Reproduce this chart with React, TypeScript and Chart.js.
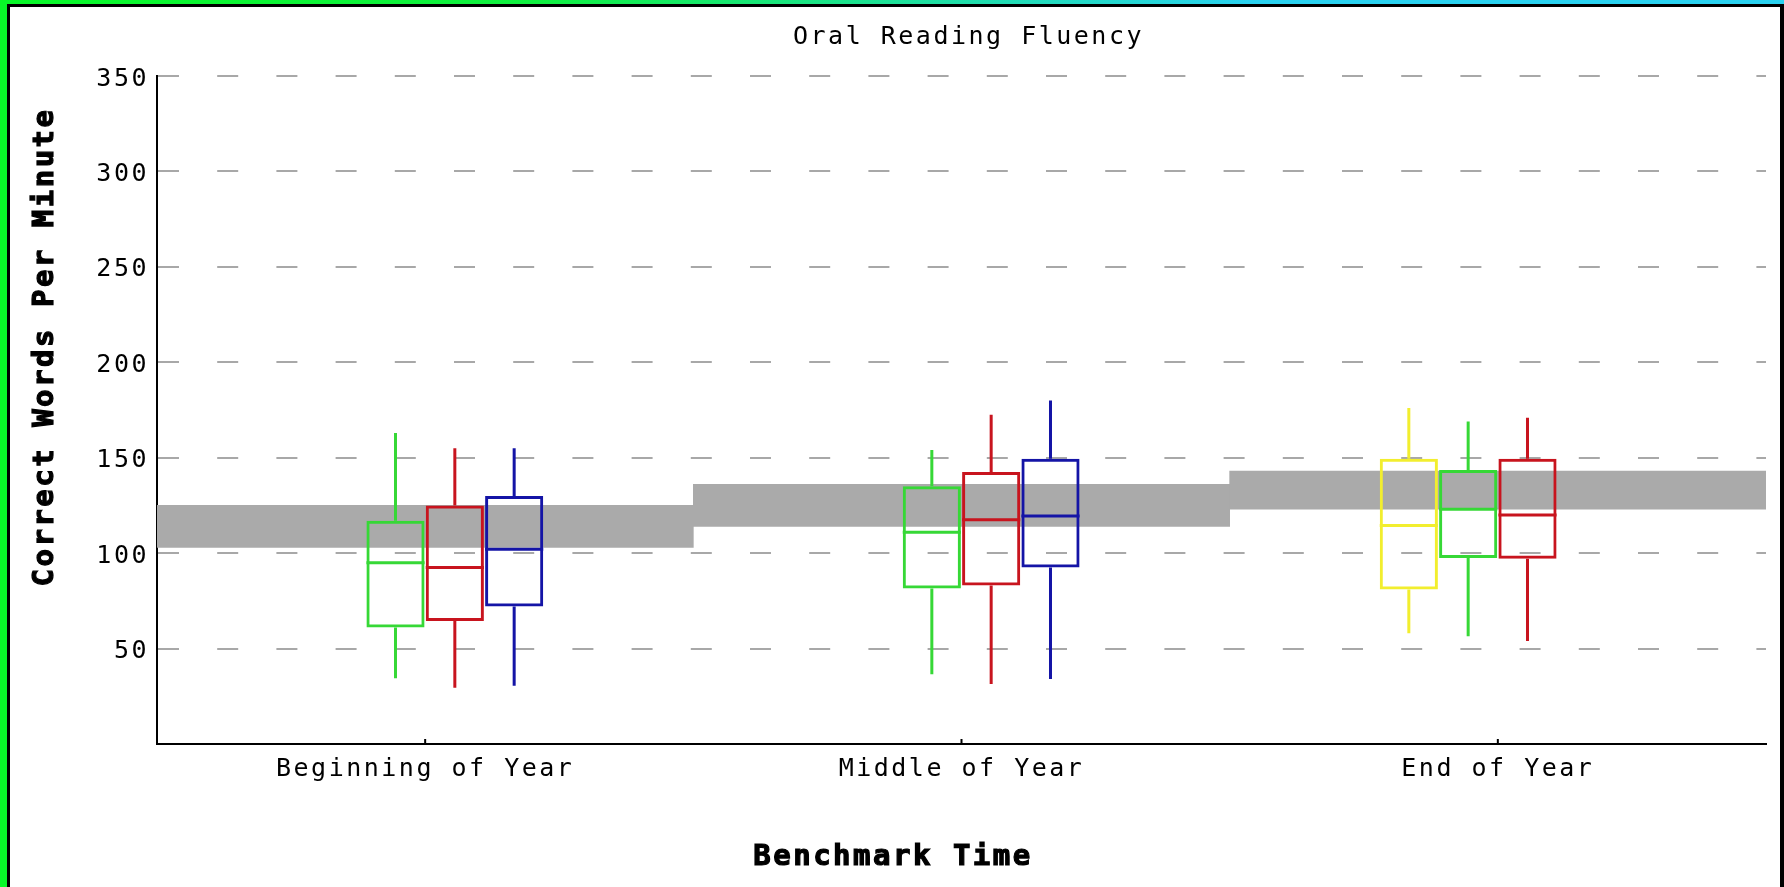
import React, { useEffect, useRef } from 'react';
import { Chart, registerables } from 'chart.js';

Chart.register(...registerables);

// ---- data ----
const categories = ['Beginning of Year', 'Middle of Year', 'End of Year'];
const seriesNames = ['Group 1', 'Group 2', 'Group 3', 'Group 4'];

const yellowMin = [null, null, 58];
const yellowQ1 = [null, null, 81];
const yellowMed = [null, null, 114.5];
const yellowQ3 = [null, null, 149.5];
const yellowMax = [null, null, 176];

const greenMin = [34.5, 36.5, 56.5];
const greenQ1 = [61, 81.5, 97.5];
const greenMed = [95, 111, 123];
const greenQ3 = [117, 135, 143.5];
const greenMax = [163, 154, 169];

const redMin = [29.5, 31.5, 54];
const redQ1 = [64.5, 83, 97];
const redMed = [92.5, 117.5, 120];
const redQ3 = [125, 142.5, 149.5];
const redMax = [155, 172.5, 171];

const blueMin = [30.5, 34, null];
const blueQ1 = [72, 92.5, null];
const blueMed = [102, 119.5, null];
const blueQ3 = [130, 149.5, null];
const blueMax = [155, 180, null];

const benchmarkLow = [103, 114, 123];
const benchmarkHigh = [125, 136, 143];

const yTickValues = [50, 100, 150, 200, 250, 300, 350];

const titleText = 'Oral Reading Fluency';
const xTitleText = 'Benchmark Time';
const yTitleText = 'Correct Words Per Minute';

// ---- styles ----
const seriesColors = ['#f2ee2e', '#36d836', '#c8141e', '#1414a6'];
const bandColor = '#aaaaaa';
const gridColor = '#a8a8a8';
const MONO = '"DejaVu Sans Mono", monospace';

type Stats = { min: (number | null)[]; q1: (number | null)[]; med: (number | null)[]; q3: (number | null)[]; max: (number | null)[] };

const seriesStats: Stats[] = [
  { min: yellowMin, q1: yellowQ1, med: yellowMed, q3: yellowQ3, max: yellowMax },
  { min: greenMin, q1: greenQ1, med: greenMed, q3: greenQ3, max: greenMax },
  { min: redMin, q1: redQ1, med: redMed, q3: redQ3, max: redMax },
  { min: blueMin, q1: blueQ1, med: blueMed, q3: blueQ3, max: blueMax },
];

const boxPlugin = {
  id: 'boxExtras',
  beforeDraw(chart: any) {
    chart.ctx.letterSpacing = '2.5px';
  },
  afterDatasetsDraw(chart: any) {
    const ctx = chart.ctx;
    const yScale = chart.scales.y;
    chart.data.datasets.forEach((ds: any, di: number) => {
      const s: Stats | undefined = ds.stats;
      if (!s) return;
      const meta = chart.getDatasetMeta(di);
      meta.data.forEach((bar: any, i: number) => {
        if (s.med[i] == null) return;
        const { x, width } = bar.getProps(['x', 'width'], true);
        ctx.save();
        ctx.strokeStyle = ds.borderColor;
        ctx.lineWidth = 3;
        ctx.beginPath();
        const ym = yScale.getPixelForValue(s.med[i]);
        ctx.moveTo(x - width / 2, ym);
        ctx.lineTo(x + width / 2, ym);
        ctx.moveTo(x, yScale.getPixelForValue(s.q3[i]));
        ctx.lineTo(x, yScale.getPixelForValue(s.max[i]));
        ctx.moveTo(x, yScale.getPixelForValue(s.q1[i]));
        ctx.lineTo(x, yScale.getPixelForValue(s.min[i]));
        ctx.stroke();
        ctx.restore();
      });
    });
  },
  afterDraw(chart: any) {
    const ctx = chart.ctx;
    const area = chart.chartArea;
    const xScale = chart.scales.x;
    ctx.save();
    // small upward tick marks at category centres
    ctx.strokeStyle = '#000';
    ctx.lineWidth = 2;
    ctx.beginPath();
    categories.forEach((_, i) => {
      const px = xScale.getPixelForTick(i);
      ctx.moveTo(px, area.bottom);
      ctx.lineTo(px, area.bottom - 5);
    });
    ctx.stroke();

    ctx.fillStyle = '#000';
    ctx.strokeStyle = '#000';
    ctx.textBaseline = 'alphabetic';
    ctx.textAlign = 'center';
    ctx.font = `25px ${MONO}`;
    ctx.fillText(titleText, 958.5, 37);

    ctx.font = `bold 29px ${MONO}`;
    ctx.lineWidth = 1.2;
    ctx.fillText(xTitleText, 883, 858);
    ctx.strokeText(xTitleText, 883, 858);

    ctx.translate(43, 340);
    ctx.rotate(-Math.PI / 2);
    ctx.fillText(yTitleText, 0, 0);
    ctx.strokeText(yTitleText, 0, 0);
    ctx.restore();
  },
};

export default function App() {
  const ref = useRef<HTMLCanvasElement | null>(null);

  useEffect(() => {
    if (!ref.current) return;
    const boxDatasets = seriesStats.map((s, k) => ({
      type: 'bar' as const,
      label: seriesNames[k],
      data: s.q1.map((v, i) => (v == null || s.q3[i] == null ? null : [v, s.q3[i]])),
      stats: s,
      backgroundColor: 'rgba(0,0,0,0)',
      borderColor: seriesColors[k],
      borderWidth: 3,
      borderSkipped: false,
      categoryPercentage: 0.4425,
      barPercentage: 0.98,
      order: 0,
    }));
    const bandDataset = {
      type: 'bar' as const,
      label: 'Benchmark',
      data: benchmarkLow.map((v, i) => [v, benchmarkHigh[i]]),
      backgroundColor: bandColor,
      borderWidth: 0,
      grouped: false,
      categoryPercentage: 1,
      barPercentage: 1,
      order: 1,
    };

    const chart = new Chart(ref.current, {
      type: 'bar',
      data: {
        labels: categories,
        datasets: [...boxDatasets, bandDataset] as any,
      },
      options: {
        animation: false,
        responsive: false,
        layout: { padding: { top: 69, right: 14, left: 0, bottom: 0 } },
        plugins: {
          legend: { display: false },
          tooltip: { enabled: false },
          title: { display: false },
        },
        scales: {
          x: {
            type: 'category',
            offset: true,
            grid: { display: false, drawTicks: false },
            border: { display: true, color: '#000', width: 2 },
            ticks: {
              color: '#000',
              padding: 10,
              maxRotation: 0,
              autoSkip: false,
              font: { family: MONO, size: 25 },
            },
            afterFit: (scale: any) => {
              scale.height = 143;
            },
          },
          y: {
            type: 'linear',
            min: 0,
            max: 350,
            afterBuildTicks: (scale: any) => {
              scale.ticks = [0, ...yTickValues].map((v) => ({ value: v }));
            },
            grid: {
              drawTicks: false,
              lineWidth: 2,
              color: (c: any) => (c.tick && c.tick.value === 0 ? 'rgba(0,0,0,0)' : gridColor),
            },
            border: { display: true, color: '#000', width: 2, dash: [21, 38.2] },
            ticks: {
              color: '#000',
              padding: 8,
              labelOffset: 3,
              font: { family: MONO, size: 25 },
              callback: (v: any) => (v === 0 ? '' : String(v)),
            },
            afterFit: (scale: any) => {
              scale.width = 147;
            },
          },
        },
      },
      plugins: [boxPlugin],
    });
    return () => chart.destroy();
  }, []);

  return (
    <div
      style={{
        position: 'fixed',
        left: 0,
        top: 0,
        width: 1784,
        height: 887,
        overflow: 'hidden',
        background: 'linear-gradient(to right, #08f828 0%, #10f040 30%, #2ad2f0 70%, #2ad2f0 100%)',
      }}
    >
      <div
        style={{
          position: 'absolute',
          left: 7,
          top: 4,
          width: 1777,
          height: 883,
          boxSizing: 'border-box',
          borderLeft: '3px solid #000',
          borderTop: '3px solid #000',
          borderRight: '4px solid #000',
          background: '#fff',
        }}
      >
        <canvas ref={ref} width={1770} height={880} style={{ display: 'block' }} />
      </div>
    </div>
  );
}
